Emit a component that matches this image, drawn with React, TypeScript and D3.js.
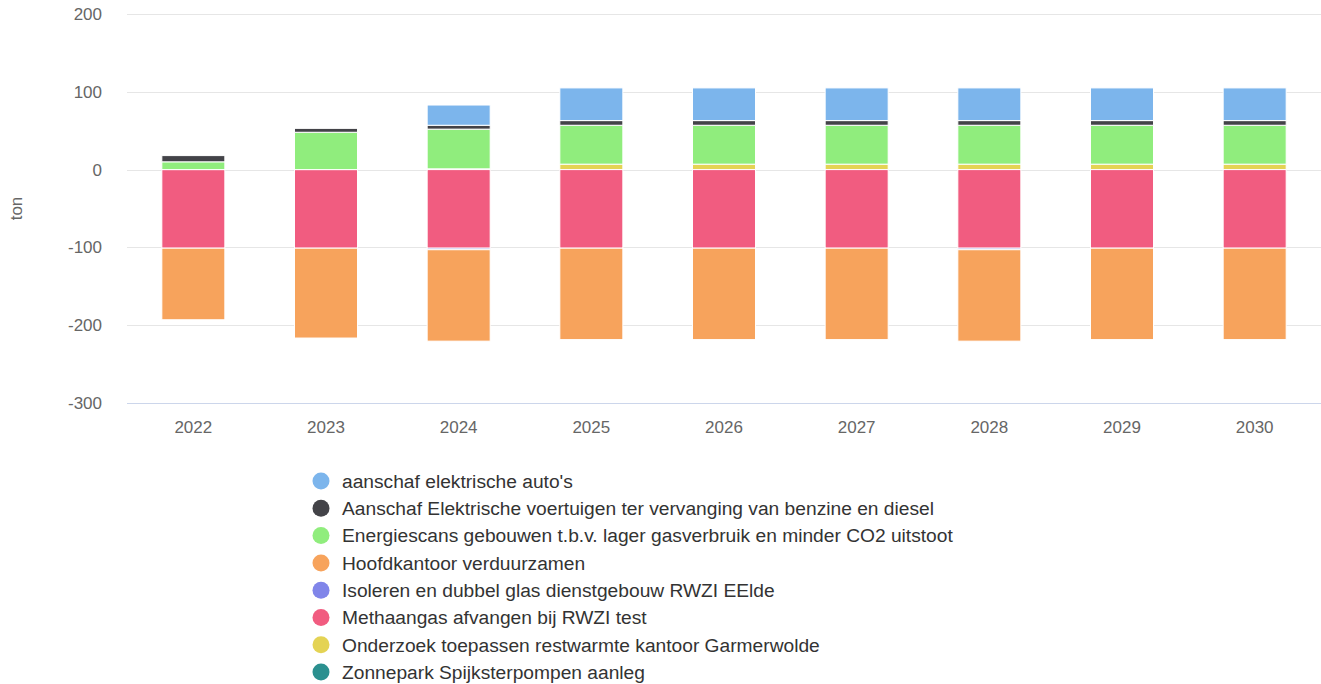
import React from "react";
import * as d3 from "d3";

const years = ["2022", "2023", "2024", "2025", "2026", "2027", "2028", "2029", "2030"];

const seriesNames = [
  "aanschaf elektrische auto's",
  "Aanschaf Elektrische voertuigen ter vervanging van benzine en diesel",
  "Energiescans gebouwen t.b.v. lager gasverbruik en minder CO2 uitstoot",
  "Hoofdkantoor verduurzamen",
  "Isoleren en dubbel glas dienstgebouw RWZI EElde",
  "Methaangas afvangen bij RWZI test",
  "Onderzoek toepassen restwarmte kantoor Garmerwolde",
  "Zonnepark Spijksterpompen aanleg",
];

const colors = ["#7cb5ec", "#434348", "#90ed7d", "#f7a35c", "#8085e9", "#f15c80", "#e4d354", "#2b908f"];

// values per series, per year (ton)
const autos = [0, 0, 26, 42, 42, 42, 42, 42, 42];
const voertuigen = [8, 5, 5, 6, 6, 6, 6, 6, 6];
const energiescans = [10, 48, 51, 50, 50, 50, 50, 50, 50];
const hoofdkantoor = [-92, -115.5, -117.5, -117.5, -117.5, -117.5, -117.5, -117.5, -117.5];
const isoleren = [0, 0, -2, 0, 0, 0, -2, 0, 0];
const methaangas = [-101, -101, -101, -101, -101, -101, -101, -101, -101];
const restwarmte = [0, 0, 1, 7, 7, 7, 7, 7, 7];
const zonnepark = [0, 0, 0, 0, 0, 0, 0, 0, 0];

const seriesValues = [autos, voertuigen, energiescans, hoofdkantoor, isoleren, methaangas, restwarmte, zonnepark];

const yTicks = [200, 100, 0, -100, -200, -300];

const width = 1321;
const height = 684;
const plot = { left: 127, right: 1321, top: 14, bottom: 403 };
const font = "'Liberation Sans', Arial, Helvetica, sans-serif";

export default function App() {
  const x = d3
    .scaleBand<string>()
    .domain(years)
    .range([plot.left, plot.right])
    .paddingInner(0.525)
    .paddingOuter(0.2625);
  const y = d3.scaleLinear().domain([-300, 200]).range([plot.bottom, plot.top]);

  // Highcharts-like stacking: last series closest to zero
  const rects: { key: string; x: number; y: number; w: number; h: number; fill: string }[] = [];
  years.forEach((yr, j) => {
    let pos = 0;
    let neg = 0;
    for (let i = seriesValues.length - 1; i >= 0; i--) {
      const v = seriesValues[i][j];
      if (!v) continue;
      let y0: number, y1: number;
      if (v > 0) {
        y0 = pos;
        y1 = pos + v;
        pos = y1;
      } else {
        y0 = neg + v;
        y1 = neg;
        neg = y0;
      }
      rects.push({
        key: `${i}-${yr}`,
        x: x(yr)!,
        y: y(y1),
        w: x.bandwidth(),
        h: y(y0) - y(y1),
        fill: colors[i],
      });
    }
  });

  const legendX = 321;
  const legendY0 = 481;
  const legendStep = 27.3;

  return (
    <svg
      width={width}
      height={height}
      style={{ position: "absolute", left: 0, top: 0, fontFamily: font }}
    >
      <rect width={width} height={height} fill="#ffffff" />
      <g>
        {yTicks.map((t) => (
          <line
            key={t}
            x1={plot.left}
            x2={plot.right}
            y1={Math.round(y(t)) + 0.5}
            y2={Math.round(y(t)) + 0.5}
            stroke={t === -300 ? "#ccd6eb" : "#e6e6e6"}
            strokeWidth={1}
          />
        ))}
      </g>
      <g>
        {yTicks.map((t) => (
          <text
            key={t}
            x={102}
            y={y(t)}
            dy="0.35em"
            textAnchor="end"
            fontSize={17}
            fill="#666666"
          >
            {t}
          </text>
        ))}
      </g>
      <text
        transform={`translate(16,${(plot.top + plot.bottom) / 2}) rotate(-90)`}
        textAnchor="middle"
        dy="0.35em"
        fontSize={17}
        fill="#666666"
      >
        ton
      </text>
      <g>
        {rects.map((r) => (
          <rect
            key={r.key}
            x={r.x}
            y={r.y}
            width={r.w}
            height={Math.max(0, r.h)}
            fill={r.fill}
            stroke="#ffffff"
            strokeWidth={1}
          />
        ))}
      </g>
      <g>
        {years.map((yr) => (
          <text
            key={yr}
            x={x(yr)! + x.bandwidth() / 2}
            y={427}
            dy="0.35em"
            textAnchor="middle"
            fontSize={17}
            fill="#666666"
          >
            {yr}
          </text>
        ))}
      </g>
      <g>
        {seriesNames.map((name, i) => (
          <g key={name} transform={`translate(0,${legendY0 + i * legendStep})`}>
            <circle cx={legendX} cy={0} r={8.5} fill={colors[i]} />
            <text x={342} y={0} dy="0.35em" fontSize={19.2} fill="#333333">
              {name}
            </text>
          </g>
        ))}
      </g>
    </svg>
  );
}
